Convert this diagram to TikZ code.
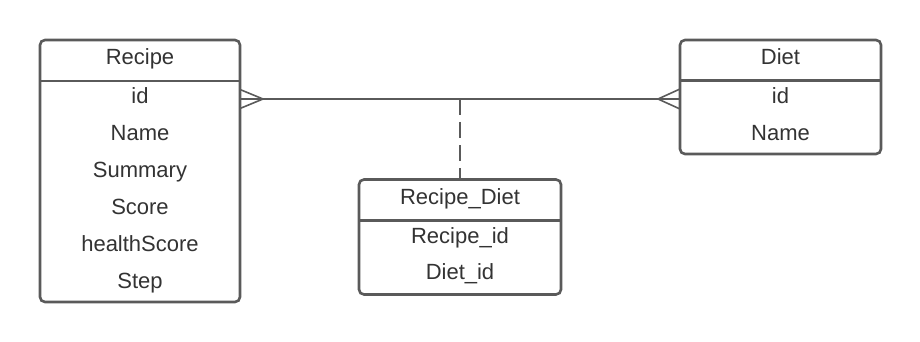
\documentclass[tikz,border=0pt]{standalone}
\usepackage{fontspec}
\setmainfont{Liberation Sans}
\begin{document}
\definecolor{edge}{HTML}{5A5A5A}
\definecolor{ink}{HTML}{333333}
\begin{tikzpicture}[x=1pt,y=-1pt,
  entity/.style={draw=edge, line width=2.6pt, rounded corners=5pt, fill=white,
    inner sep=0pt, outer sep=0pt, anchor=north west},
  txt/.style={text=ink, font=\fontsize{22}{25}\selectfont, anchor=base, inner sep=0pt},
  rule/.style={draw=edge, line width=2.8pt},
  link/.style={draw=edge, line width=1.8pt},
  crow/.style={draw=edge, line width=1.6pt}]
\useasboundingbox (0,0) rectangle (920,342);

% Recipe entity
\node[entity, minimum width=200pt, minimum height=262pt] (recipe) at (40,40) {};
\draw[rule] (recipe.west |- 0,81) -- (recipe.east |- 0,81);
\node[txt] (r-head) at (140,64.5) {Recipe};
\node[txt] (r-id) at (140,103.5) {id};
\node[txt] (r-name) at (140,140.5) {Name};
\node[txt] (r-sum) at (140,177.5) {Summary};
\node[txt] (r-score) at (140,214.5) {Score};
\node[txt] (r-health) at (140,251) {healthScore};
\node[txt] (r-step) at (140,288.5) {Step};

% Diet entity
\node[entity, minimum width=201pt, minimum height=114pt] (diet) at (680,40) {};
\draw[rule] (diet.west |- 0,80.5) -- (diet.east |- 0,80.5);
\node[txt] (d-head) at (780.5,64.5) {Diet};
\node[txt] (d-id) at (780.5,103.5) {id};
\node[txt] (d-name) at (780.5,140.5) {Name};

% Recipe_Diet join table
\node[entity, minimum width=202pt, minimum height=115pt] (rd) at (359,179.5) {};
\draw[rule] (rd.west |- 0,220.5) -- (rd.east |- 0,220.5);
\node[txt] (j-head) at (460,204.5) {Recipe\_Diet};
\node[txt] (j-rid) at (460,243.5) {Recipe\_id};
\node[txt] (j-did) at (460,279.5) {Diet\_id};

% many-to-many relationship
\coordinate (rA) at (recipe.east |- 0,99);
\coordinate (dA) at (diet.west |- 0,99);
\coordinate (mid) at (rd.north |- 0,99);
\draw[link] (rA) -- (dA);
\draw[crow] ([yshift=-9.5pt]rA) -- ([xshift=23pt]rA) -- ([yshift=9.5pt]rA);
\draw[crow] ([yshift=-10pt]dA) -- ([xshift=-22pt]dA) -- ([yshift=10pt]dA);
\draw[link, dash pattern=on 16pt off 7pt] (mid) -- (rd.north);
\end{tikzpicture}
\end{document}
